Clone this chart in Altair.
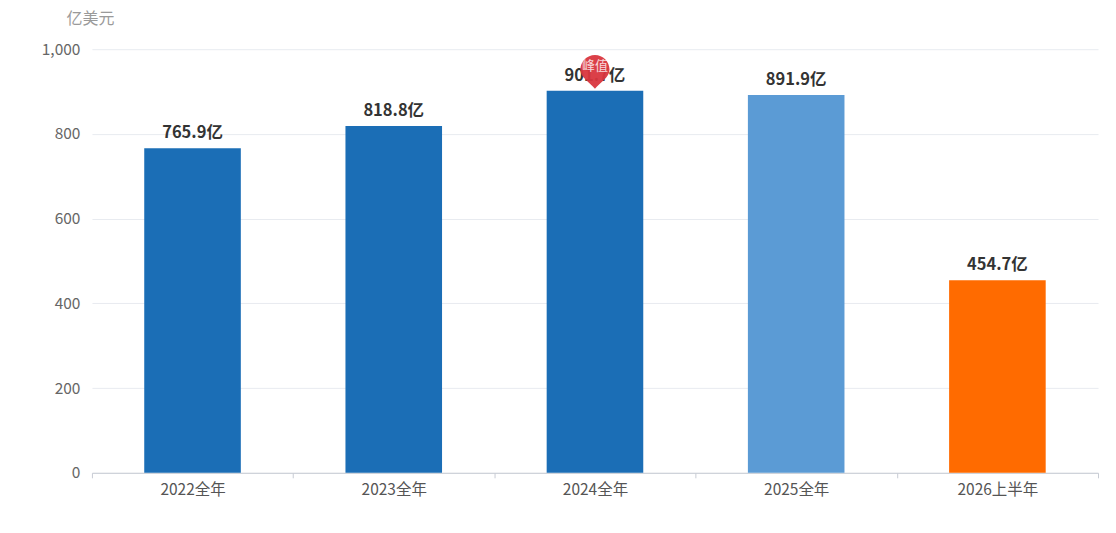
import altair as alt
import pandas as pd

categories = ["2022全年", "2023全年", "2024全年", "2025全年", "2026上半年"]
values = [765.9, 818.8, 901.7, 891.9, 454.7]
labels = ["765.9亿", "818.8亿", "901.7亿", "891.9亿", "454.7亿"]
groups = ["a", "a", "a", "b", "c"]
colors = ["#1b6eb6", "#5b9bd5", "#ff6b00"]
peak_label = "峰值"

df = pd.DataFrame({"cat": categories, "val": values, "label": labels, "grp": groups})
peak_df = df[df["val"] == df["val"].max()].assign(pin=peak_label)

FONT = "Noto Sans CJK SC"

x = alt.X("cat:N", sort=categories, title=None,
          scale=alt.Scale(paddingInner=0, paddingOuter=0),
          axis=alt.Axis(labelAngle=0, labelFontSize=15.5, labelColor="#555555",
                        labelFont=FONT, tickBand="extent", tickColor="#c8ccd4",
                        tickSize=5, labelPadding=5, domainColor="#c8ccd4", grid=False))
y = alt.Y("val:Q", title="亿美元",
          scale=alt.Scale(domain=[0, 1000], nice=False),
          axis=alt.Axis(values=[0, 200, 400, 600, 800, 1000], format=",.0f",
                        labelFontSize=15.5, labelColor="#666666", labelFont=FONT,
                        ticks=False, domain=False, labelPadding=12,
                        gridColor="#e8ebf0", titleAngle=0, titleAlign="left",
                        titleBaseline="middle", titleX=-26, titleY=-31,
                        titleFontSize=16, titleFontWeight="normal",
                        titleColor="#9a9a9a", titleFont=FONT))
x_plain = alt.X("cat:N", sort=categories)
y_plain = alt.Y("val:Q")

bars = alt.Chart(df).mark_bar(width=alt.RelativeBandSize(0.48)).encode(
    x=x, y=y,
    color=alt.Color("grp:N", scale=alt.Scale(domain=["a", "b", "c"], range=colors), legend=None),
)

text = alt.Chart(df).mark_text(baseline="bottom", dy=-7, fontSize=16.5,
                               fontWeight="bold", color="#333333", font=FONT).encode(
    x=x_plain, y=y_plain, text="label:N")

pin_path = ("M0,1 C-0.3,0.62 -0.86,0.35 -0.86,-0.14 "
            "A0.86,0.86 0 1 1 0.86,-0.14 C0.86,0.35 0.3,0.62 0,1 Z")
pin = alt.Chart(peak_df).mark_point(shape=pin_path, size=1150, filled=True,
                                    color="#d9363e", opacity=0.95, yOffset=-19).encode(
    x=x_plain, y=y_plain)
pin_text = alt.Chart(peak_df).mark_text(baseline="middle", dy=-25, fontSize=13,
                                        color="#ffffff", opacity=0.8, font=FONT).encode(
    x=x_plain, y=y_plain, text="pin:N")

chart = (
    alt.layer(bars, text, pin, pin_text)
    .properties(
        width=1007, height=424,
        autosize=alt.AutoSizeParams(type="none"),
        padding={"left": 84, "top": 41, "right": 10, "bottom": 40},
    )
    .configure(font=FONT)
    .configure_view(stroke="transparent", strokeWidth=0)
    .configure_axisX(grid=False)
)

chart.save("out.html", embed_options={"renderer": "svg", "actions": False})
